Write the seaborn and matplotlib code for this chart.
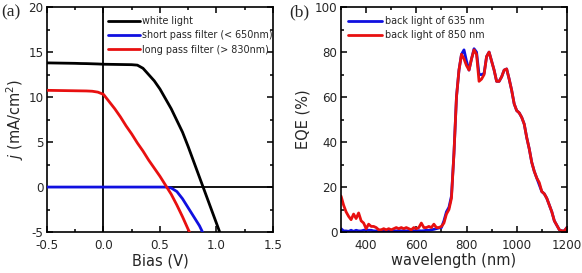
import matplotlib
matplotlib.use("Agg")
import matplotlib.pyplot as plt
import pandas as pd
import seaborn as sns
from matplotlib.ticker import MultipleLocator

# (a) J-V curves
bias = [-0.5, -0.45, -0.4, -0.35, -0.3, -0.25, -0.2, -0.15, -0.1, -0.05, 0.0,
        0.05, 0.1, 0.15, 0.2, 0.25, 0.3, 0.35, 0.4, 0.45, 0.5, 0.55, 0.6,
        0.65, 0.7, 0.75, 0.8, 0.85, 0.9, 0.95, 1.0, 1.05]
j_white = [13.8, 13.79, 13.78, 13.77, 13.76, 13.75, 13.73, 13.72, 13.7, 13.68, 13.65,
           13.64, 13.63, 13.62, 13.61, 13.6, 13.55, 13.2, 12.5, 11.8, 10.9, 9.8, 8.7,
           7.4, 6.1, 4.5, 2.8, 1.1, -0.6, -2.3, -4.0, -5.7]
j_short = [0.0, 0.0, 0.0, 0.0, 0.0, 0.0, 0.0, 0.0, 0.0, 0.0, 0.0,
           0.0, 0.0, 0.0, 0.0, 0.0, 0.0, 0.0, 0.0, 0.0, 0.0, 0.0, -0.1,
           -0.5, -1.3, -2.3, -3.3, -4.3, -5.6, -6.8, -8.0, -9.2]
j_long = [10.75, 10.74, 10.73, 10.72, 10.71, 10.7, 10.69, 10.68, 10.65, 10.55, 10.3,
          9.5, 8.7, 7.8, 6.8, 5.9, 4.9, 4.0, 3.0, 2.1, 1.2, 0.2, -0.8,
          -2.0, -3.3, -4.7, -6.0, -7.3, -8.6, -9.9, -11.2, -12.5]
jv_labels = ["white light", "short pass filter (< 650nm)", "long pass filter (> 830nm)"]
jv_colors = ["black", "#1010e0", "#e81010"]

# (b) EQE spectra
wavelength = list(range(300, 1201, 10))
eqe_635 = [1.5, 0.5, 0.5, 0.3, 0.8, 0.3, 0.8, 0.5, 0.5, 0.8,
           1.0, 0.8, 0.8, 0.5, 0.5, 0.6, 0.5, 0.6, 0.5, 0.6,
           0.5, 0.6, 0.5, 0.6, 0.5, 0.6, 0.5, 0.6, 0.5, 0.6,
           0.5, 0.6, 0.5, 0.6, 0.8, 0.8, 1.0, 1.2, 1.5, 1.8,
           2.0, 5.0, 9.0, 11.0, 16.0, 35.0, 60.0, 72.0, 79.0, 81.0,
           76.0, 72.0, 77.0, 81.5, 80.0, 70.0, 70.0, 70.5, 78.0, 80.0,
           76.0, 72.0, 67.0, 67.0, 69.0, 72.0, 72.5, 68.0, 63.0, 57.0,
           54.0, 53.0, 51.0, 48.0, 42.0, 37.0, 31.0, 27.0, 24.0, 21.0,
           18.0, 17.0, 15.0, 12.0, 9.0, 5.0, 3.0, 1.0, 0.5, 0.5, 2.0]
eqe_850 = [16.0, 12.0, 9.0, 7.0, 5.5, 8.0, 6.0, 8.5, 5.0, 4.0,
           1.5, 3.5, 2.5, 2.5, 2.0, 1.0, 1.0, 1.5, 1.0, 1.5,
           1.0, 1.5, 2.0, 1.5, 2.0, 1.5, 2.0, 1.5, 1.0, 2.0,
           1.5, 2.0, 4.0, 2.0, 2.0, 2.5, 2.0, 3.5, 2.0, 2.0,
           2.5, 4.0, 8.0, 10.0, 15.0, 35.0, 60.0, 72.0, 79.0, 77.0,
           74.0, 72.0, 77.0, 81.0, 79.0, 67.0, 68.0, 70.0, 78.0, 80.0,
           76.0, 72.0, 67.0, 67.0, 69.0, 72.0, 72.5, 68.0, 63.0, 57.0,
           54.0, 53.0, 51.0, 48.0, 42.0, 37.0, 31.0, 27.0, 24.0, 22.0,
           18.0, 17.0, 15.0, 12.0, 9.0, 5.0, 3.0, 1.0, 0.5, 0.5, 2.0]
eqe_labels = ["back light of 635 nm", "back light of 850 nm"]
eqe_colors = ["#1010e0", "#e81010"]

sns.set_style("ticks")
plt.rcParams["font.family"] = ["DejaVu Sans"]

jv = pd.DataFrame({"Bias": bias * 3,
                   "j": j_white + j_short + j_long,
                   "curve": [jv_labels[0]] * len(bias) + [jv_labels[1]] * len(bias)
                   + [jv_labels[2]] * len(bias)})
eqe = pd.DataFrame({"wl": wavelength * 2,
                    "EQE": eqe_635 + eqe_850,
                    "curve": [eqe_labels[0]] * len(wavelength) + [eqe_labels[1]] * len(wavelength)})

fig = plt.figure(figsize=(5.82, 2.73), dpi=100)
ax1 = fig.add_axes([0.0808, 0.150, 0.388, 0.824])
ax2 = fig.add_axes([0.586, 0.150, 0.388, 0.824])

ax1.axhline(0, color="black", lw=1.3, zorder=1)
ax1.axvline(0, color="black", lw=1.3, zorder=1)
sns.lineplot(data=jv, x="Bias", y="j", hue="curve", palette=jv_colors,
             hue_order=jv_labels, lw=2, ax=ax1, sort=False, zorder=3)
ax1.set_xlim(-0.5, 1.5)
ax1.set_ylim(-5, 20)
ax1.xaxis.set_major_locator(MultipleLocator(0.5))
ax1.xaxis.set_minor_locator(MultipleLocator(0.25))
ax1.yaxis.set_major_locator(MultipleLocator(5))
ax1.yaxis.set_minor_locator(MultipleLocator(2.5))
ax1.set_xticks([-0.5, 0.0, 0.5, 1.0, 1.5])
ax1.set_xticklabels(["-0.5", "0.0", "0.5", "1.0", "1.5"])
ax1.set_yticks([-5, 0, 5, 10, 15, 20])
ax1.set_yticklabels(["-5", "0", "5", "10", "15", "20"])
ax1.set_xlabel("Bias (V)", fontsize=10.5, labelpad=1)
ax1.set_ylabel(r"$j$ (mA/cm$^2$)", fontsize=10.5, labelpad=2)
ax1.legend(loc="upper left", bbox_to_anchor=(0.24, 0.99), frameon=False,
           fontsize=6.9, handlelength=3.3, handletextpad=0.3, labelspacing=0.45,
           borderaxespad=0.3)

sns.lineplot(data=eqe, x="wl", y="EQE", hue="curve", palette=eqe_colors,
             hue_order=eqe_labels, lw=2, ax=ax2)
ax2.set_xlim(300, 1200)
ax2.set_ylim(0, 100)
ax2.xaxis.set_major_locator(MultipleLocator(200))
ax2.xaxis.set_minor_locator(MultipleLocator(100))
ax2.yaxis.set_major_locator(MultipleLocator(20))
ax2.yaxis.set_minor_locator(MultipleLocator(10))
ax2.set_xticks([400, 600, 800, 1000, 1200])
ax2.set_xlabel("wavelength (nm)", fontsize=10.5, labelpad=1)
ax2.set_ylabel("EQE (%)", fontsize=10.5, labelpad=3)
ax2.legend(loc="upper left", bbox_to_anchor=(0.0, 0.99), frameon=False,
           fontsize=6.9, handlelength=3.6, handletextpad=0.3, labelspacing=0.45,
           borderaxespad=0.3)

for ax in (ax1, ax2):
    for sp in ax.spines.values():
        sp.set_visible(True)
        sp.set_linewidth(1.2)
        sp.set_color("black")
    ax.tick_params(which="both", direction="in", top=True, right=True,
                   labelsize=8.6, width=1.1, color="black", pad=2.5)
    ax.tick_params(axis="x", which="both", pad=5)
    ax.tick_params(which="major", length=4)
    ax.tick_params(which="minor", length=2)

fig.text(0.002, 0.985, "(a)", fontsize=12.5, family="Liberation Serif", va="top")
fig.text(0.497, 0.985, "(b)", fontsize=12.5, family="Liberation Serif", va="top")

fig.savefig("out.png", dpi=100)
